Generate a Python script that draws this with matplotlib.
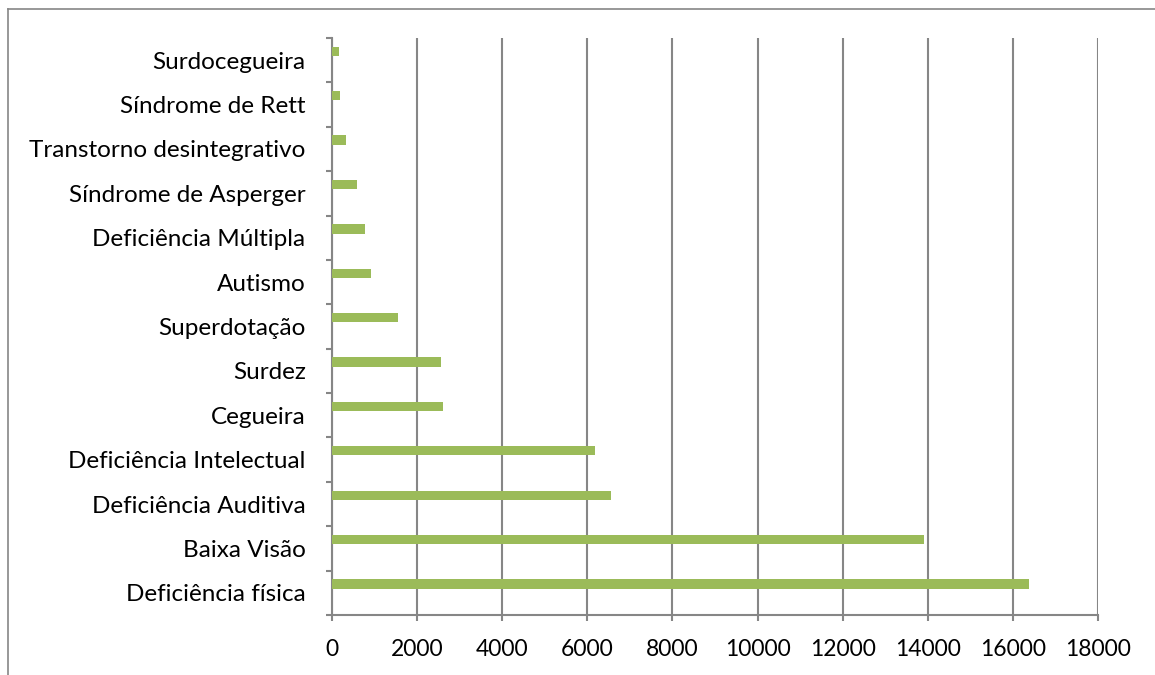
import matplotlib
matplotlib.use("Agg")
import matplotlib.pyplot as plt
from matplotlib.lines import Line2D
import numpy as np

# categories listed bottom -> top
categories = ["Deficiência física", "Baixa Visão", "Deficiência Auditiva",
              "Deficiência Intelectual", "Cegueira", "Surdez", "Superdotação",
              "Autismo", "Deficiência Múltipla", "Síndrome de Asperger",
              "Transtorno desintegrativo", "Síndrome de Rett", "Surdocegueira"]
values = [16370, 13900, 6565, 6175, 2600, 2555, 1540,
          912, 780, 583, 323, 189, 158]
xticks = [0, 2000, 4000, 6000, 8000, 10000, 12000, 14000, 16000, 18000]

plt.rcParams['font.family'] = ['Lato', 'DejaVu Sans']
gray = "#868686"

W, H = 1155, 675
fig = plt.figure(figsize=(W / 100, H / 100), dpi=100)
ax = fig.add_axes([332 / W, 1 - 615 / H, (1098 - 332) / W, (615 - 38) / H])

y = np.arange(len(categories))
ax.barh(y + 0.2, values, height=0.21, color="#9BBB59", zorder=3)

ax.set_xlim(0, 18000)
ax.set_ylim(-0.5, len(categories) - 0.5)
ax.set_xticks(xticks)
ax.set_xticklabels([str(v) for v in xticks])
ax.set_yticks(y)
ax.set_yticklabels(categories)
ax.set_yticks(np.arange(-0.5, len(categories)), minor=True)
ax.grid(axis="x", color=gray, linewidth=1.5, zorder=0)

for s in ["top", "right"]:
    ax.spines[s].set_visible(False)
for s in ["left", "bottom"]:
    ax.spines[s].set_color(gray)
    ax.spines[s].set_linewidth(1.5)

ax.tick_params(axis="y", which="major", length=0, pad=19, labelsize=17.5, labelcolor="black")
ax.tick_params(axis="y", which="minor", length=4, width=1.5, color=gray)
ax.tick_params(axis="x", length=4, width=1.5, color=gray, pad=13, labelsize=16.5, labelcolor="black")

# outer frame (top and left edges of the chart box)
fig.add_artist(Line2D([8 / W, 8 / W], [0, 1 - 9 / H], color=gray, linewidth=1.2))
fig.add_artist(Line2D([8 / W, 1], [1 - 9 / H, 1 - 9 / H], color=gray, linewidth=1.2))

fig.savefig("out.png", dpi=100)
